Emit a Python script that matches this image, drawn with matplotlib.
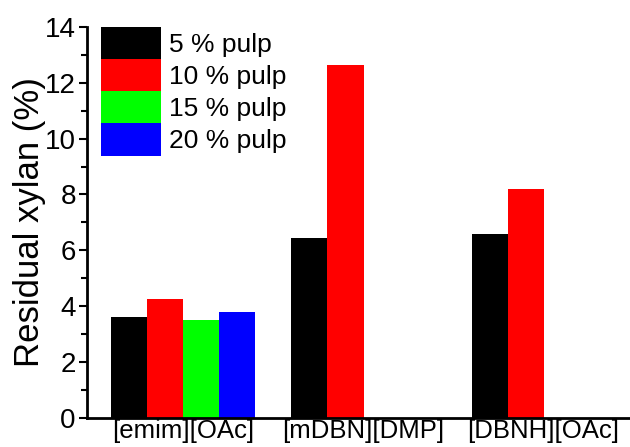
import matplotlib
matplotlib.use("Agg")
import matplotlib.pyplot as plt
import numpy as np
from matplotlib.ticker import MultipleLocator

plt.rcParams['font.family'] = ['Liberation Sans', 'DejaVu Sans']

categories = ["[emim][OAc]", "[mDBN][DMP]", "[DBNH][OAc]"]
series_names = ["5 % pulp", "10 % pulp", "15 % pulp", "20 % pulp"]
colors = ["#000000", "#ff0000", "#00ff00", "#0000ff"]
values = {
    "5 % pulp": [3.6, 6.45, 6.6],
    "10 % pulp": [4.25, 12.65, 8.2],
    "15 % pulp": [3.5, np.nan, np.nan],
    "20 % pulp": [3.8, np.nan, np.nan],
}

fig = plt.figure(figsize=(6.3, 4.47), dpi=100)
ax = fig.add_axes([0.138, 0.065, 0.862, 0.875])

x = np.arange(1, len(categories) + 1)
w = 0.2
for i, name in enumerate(series_names):
    ax.bar(x - 1.5 * w + i * w, values[name], width=w, color=colors[i], label=name)

ax.set_xlim(0.464, 3.48)
ax.set_ylim(0, 14)
ax.yaxis.set_major_locator(MultipleLocator(2))
ax.yaxis.set_minor_locator(MultipleLocator(1))
ax.set_xticks(x)
ax.set_xticklabels(categories, fontsize=18.5)
ax.tick_params(axis='x', length=0, pad=1)
ax.tick_params(axis='y', which='major', direction='out', length=6, width=1.5, labelsize=20, pad=2)
ax.tick_params(axis='y', which='minor', direction='out', length=4, width=1.5)
for s in ['top', 'right']:
    ax.spines[s].set_visible(False)
for s in ['left', 'bottom']:
    ax.spines[s].set_linewidth(2)
ax.set_ylabel("Residual xylan (%)", fontsize=25, labelpad=-0.5)

ax.legend(loc='upper left', bbox_to_anchor=(0.026, 1.0), frameon=False, fontsize=19,
          handlelength=2.27, handleheight=1.5, labelspacing=0.0, handletextpad=0.3,
          borderaxespad=0.0, borderpad=0.0)

fig.savefig("out.png", dpi=100)
